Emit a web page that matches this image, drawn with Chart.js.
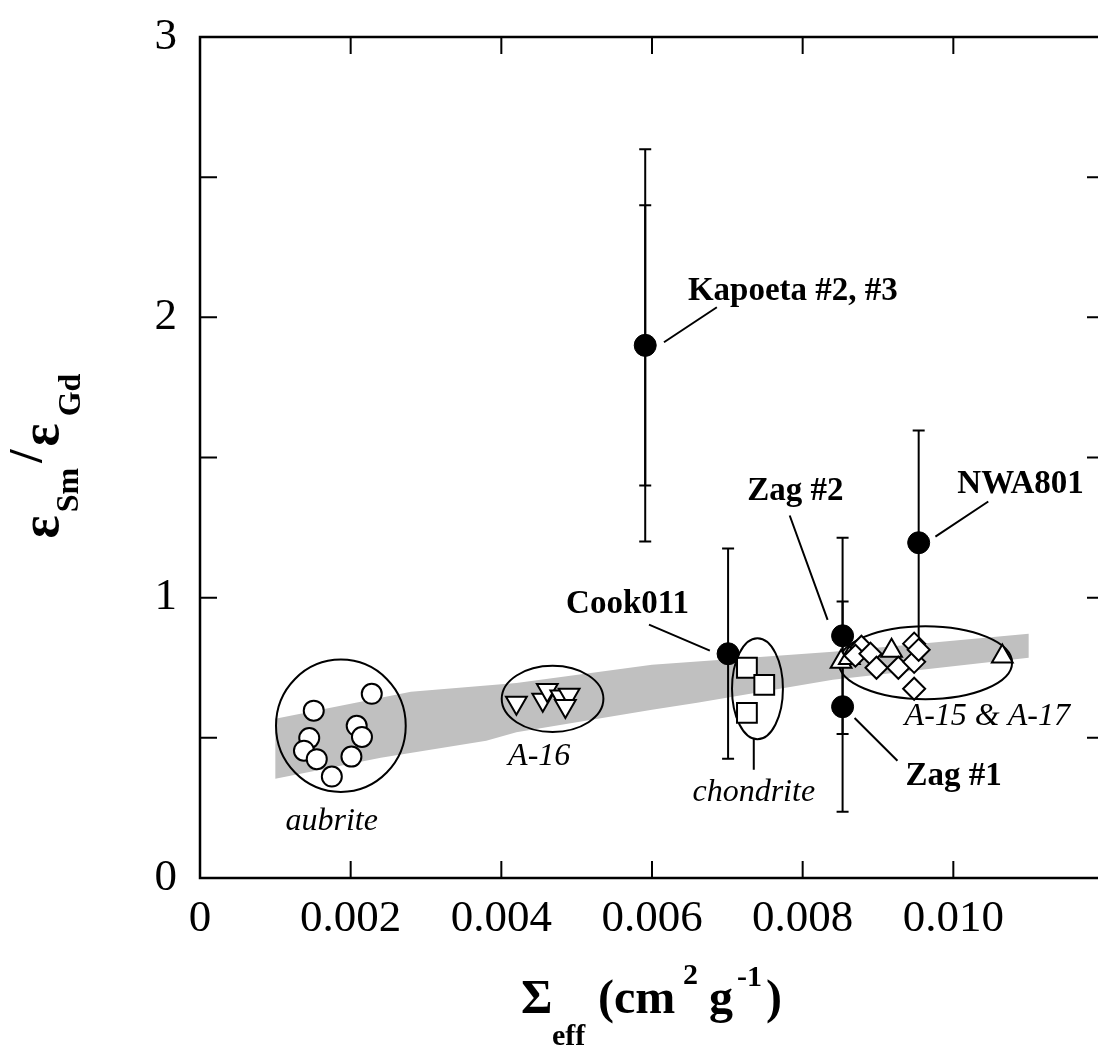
<!DOCTYPE html>
<html>
<head>
<meta charset="utf-8">
<script src="https://cdn.jsdelivr.net/npm/chart.js@4.4.1/dist/chart.umd.min.js"></script>
<style>
  html, body { margin: 0; padding: 0; background: #fff; overflow: hidden; }
  #wrap { width: 1120px; height: 1048px; }
</style>
</head>
<body>
<div id="wrap"><canvas id="chart" width="1120" height="1048"></canvas></div>
<script>
// --- data ---
// measured samples (filled circles)
const sampleNames = ['Kapoeta #2, #3', 'Cook011', 'Zag #2', 'Zag #1', 'NWA801'];
const sampleX = [0.00591, 0.00701, 0.00853, 0.00853, 0.00954];
const sampleY = [1.90, 0.80, 0.864, 0.611, 1.196];
const sampleErr = [0.50, 0.375, 0.35, 0.375, 0.40];
const sampleErrOuter = [0.70, 0, 0, 0, 0];

// aubrite (open circles)
const aubriteX = [0.00228, 0.00151, 0.00208, 0.00215, 0.00145, 0.00138, 0.00155, 0.00201, 0.00175];
const aubriteY = [0.657, 0.597, 0.543, 0.503, 0.499, 0.454, 0.424, 0.433, 0.362];

// A-16 (down triangles)
const a16X = [0.00420, 0.00455, 0.00461, 0.00479, 0.00490, 0.00485];
const a16Y = [0.625, 0.636, 0.671, 0.647, 0.654, 0.614];

// chondrite (squares)
const chondriteX = [0.00726, 0.00749, 0.00726];
const chondriteY = [0.750, 0.689, 0.589];

// A-15 & A-17 (up triangles and diamonds)
const a15TriX = [0.00851, 0.00862, 0.00918, 0.01065];
const a15TriY = [0.771, 0.785, 0.811, 0.790];
const a15DiaX = [0.00948, 0.00878, 0.00870, 0.00890, 0.00898, 0.00927, 0.00948, 0.00954, 0.00948];
const a15DiaY = [0.836, 0.825, 0.793, 0.800, 0.750, 0.750, 0.771, 0.814, 0.675];

// grey model band
const bandUpperX = [0.001, 0.0028, 0.0042, 0.006, 0.0084, 0.011];
const bandUpperY = [0.568, 0.664, 0.696, 0.761, 0.807, 0.871];
const bandLowerX = [0.001, 0.0024, 0.0038, 0.0042, 0.006, 0.0066, 0.0084, 0.011];
const bandLowerY = [0.354, 0.429, 0.490, 0.520, 0.600, 0.625, 0.707, 0.786];

// group outlines (centre and half-axes in data units)
const groupCx = [0.00187, 0.00468, 0.00740, 0.00963];
const groupCy = [0.543, 0.639, 0.675, 0.768];
const groupRx = [0.000861, 0.000675, 0.000338, 0.00115];
const groupRy = [0.236, 0.118, 0.180, 0.130];

// text annotations
const groupNames = ['aubrite', 'A-16', 'chondrite', 'A-15 & A-17'];
const groupLabelX = [0.001748, 0.004503, 0.007351, 0.01045];
const groupLabelY = [0.200, 0.432, 0.304, 0.575];
const sampleLabelX = [0.006477, 0.00649, 0.008543, 0.009364, 0.010053];
const sampleLabelY = [2.093, 0.975, 1.379, 0.361, 1.404];
const sampleLabelAlign = ['left', 'right', 'right', 'left', 'left'];
const leaderLines = [
  [0.006159, 1.911, 0.006861, 2.036],
  [0.006768, 0.811, 0.00596, 0.904],
  [0.008331, 0.921, 0.007828, 1.293],
  [0.008689, 0.571, 0.009258, 0.418],
  [0.009762, 1.218, 0.010464, 1.343],
  [0.007351, 0.496, 0.007351, 0.386]
];

const xTicks = [0, 0.002, 0.004, 0.006, 0.008, 0.010, 0.012];
const yTicks = [0, 1, 2, 3];

const SERIF = "'Liberation Serif', 'Times New Roman', serif";

function pts(xs, ys) { return xs.map((x, i) => ({ x: x, y: ys[i] })); }

const bandPoly = pts(bandUpperX, bandUpperY)
  .concat(pts(bandLowerX, bandLowerY).reverse());
bandPoly.push({ x: bandUpperX[0], y: bandUpperY[0] });

// ellipses + error bars, drawn right after the band
const underlayPlugin = {
  id: 'underlay',
  afterDatasetDraw(chart, args) {
    if (args.index !== 6) return;
    const ctx = chart.ctx;
    const xs = chart.scales.x, ys = chart.scales.y;
    ctx.save();
    ctx.strokeStyle = '#000';
    ctx.lineWidth = 2;
    groupCx.forEach((cx, i) => {
      const px = xs.getPixelForValue(cx), py = ys.getPixelForValue(groupCy[i]);
      const rx = xs.getPixelForValue(cx + groupRx[i]) - px;
      const ry = py - ys.getPixelForValue(groupCy[i] + groupRy[i]);
      ctx.beginPath();
      ctx.ellipse(px, py, rx, ry, 0, 0, Math.PI * 2);
      ctx.stroke();
    });
    sampleX.forEach((x, i) => {
      const px = xs.getPixelForValue(x);
      [sampleErr[i], sampleErrOuter[i]].forEach(e => {
        if (!e) return;
        const top = ys.getPixelForValue(sampleY[i] + e);
        const bot = ys.getPixelForValue(sampleY[i] - e);
        ctx.beginPath();
        ctx.moveTo(px, top); ctx.lineTo(px, bot);
        ctx.moveTo(px - 6, top); ctx.lineTo(px + 6, top);
        ctx.moveTo(px - 6, bot); ctx.lineTo(px + 6, bot);
        ctx.stroke();
      });
    });
    ctx.restore();
  }
};

// frame, inward ticks, annotations and axis titles
const overlayPlugin = {
  id: 'overlay',
  afterDraw(chart) {
    const ctx = chart.ctx;
    const a = chart.chartArea;
    const xs = chart.scales.x, ys = chart.scales.y;
    ctx.save();
    ctx.strokeStyle = '#000';
    ctx.lineWidth = 2.5;
    ctx.strokeRect(a.left, a.top, a.right - a.left, a.bottom - a.top);

    ctx.lineWidth = 2;
    const tl = 17;
    ctx.beginPath();
    xs.ticks.forEach(t => {
      const p = xs.getPixelForValue(t.value);
      ctx.moveTo(p, a.bottom); ctx.lineTo(p, a.bottom - tl);
      ctx.moveTo(p, a.top); ctx.lineTo(p, a.top + tl);
    });
    ys.ticks.forEach(t => {
      const p = ys.getPixelForValue(t.value);
      ctx.moveTo(a.left, p); ctx.lineTo(a.left + tl, p);
      ctx.moveTo(a.right, p); ctx.lineTo(a.right - tl, p);
    });
    ctx.stroke();

    // leader lines
    ctx.beginPath();
    leaderLines.forEach(l => {
      ctx.moveTo(xs.getPixelForValue(l[0]), ys.getPixelForValue(l[1]));
      ctx.lineTo(xs.getPixelForValue(l[2]), ys.getPixelForValue(l[3]));
    });
    ctx.stroke();

    ctx.fillStyle = '#000';
    ctx.textBaseline = 'middle';
    ctx.font = 'bold 33px ' + SERIF;
    sampleNames.forEach((n, i) => {
      ctx.textAlign = sampleLabelAlign[i];
      ctx.fillText(n, xs.getPixelForValue(sampleLabelX[i]), ys.getPixelForValue(sampleLabelY[i]));
    });
    ctx.font = 'italic 32px ' + SERIF;
    ctx.textAlign = 'center';
    groupNames.forEach((n, i) => {
      ctx.fillText(n, xs.getPixelForValue(groupLabelX[i]), ys.getPixelForValue(groupLabelY[i]));
    });

    // x title: Σeff (cm2 g-1)
    ctx.textBaseline = 'alphabetic';
    ctx.textAlign = 'left';
    ctx.font = 'bold 48px ' + SERIF;
    ctx.fillText('\u03A3', 521, 1013);
    ctx.fillText('(cm', 598, 1013);
    ctx.fillText('g', 709, 1013);
    ctx.fillText(')', 766, 1013);
    ctx.font = 'bold 30px ' + SERIF;
    ctx.fillText('eff', 552, 1045);
    ctx.fillText('2', 683, 984);
    ctx.fillText('-1', 737, 986);

    // y title: εSm /εGd (rotated)
    const rot = (txt, font, cx, cy) => {
      ctx.save();
      ctx.translate(cx, cy);
      ctx.rotate(-Math.PI / 2);
      ctx.font = font;
      ctx.textAlign = 'center';
      ctx.textBaseline = 'middle';
      ctx.fillText(txt, 0, 0);
      ctx.restore();
    };
    rot('\u03B5', 'bold 54px ' + SERIF, 44, 527);
    rot('Sm', 'bold 32px ' + SERIF, 70, 490);
    rot('/', 'bold 48px ' + SERIF, 30, 456);
    rot('\u03B5', 'bold 54px ' + SERIF, 44, 435);
    rot('Gd', 'bold 32px ' + SERIF, 72, 395);
    ctx.restore();
  }
};

new Chart(document.getElementById('chart'), {
  type: 'scatter',
  data: {
    datasets: [
      { label: 'samples', data: pts(sampleX, sampleY), order: 0,
        pointStyle: 'circle', pointRadius: 11, backgroundColor: '#000', borderColor: '#000', borderWidth: 1 },
      { label: 'aubrite', data: pts(aubriteX, aubriteY), order: 1,
        pointStyle: 'circle', pointRadius: 10, backgroundColor: '#fff', borderColor: '#000', borderWidth: 2 },
      { label: 'A-16', data: pts(a16X, a16Y), order: 2,
        pointStyle: 'triangle', rotation: 180, pointRadius: 12, backgroundColor: '#fff', borderColor: '#000', borderWidth: 2 },
      { label: 'chondrite', data: pts(chondriteX, chondriteY), order: 3,
        pointStyle: 'rect', pointRadius: 14, backgroundColor: '#fff', borderColor: '#000', borderWidth: 2 },
      { label: 'A-15 tri', data: pts(a15TriX, a15TriY), order: 5,
        pointStyle: 'triangle', pointRadius: 12, backgroundColor: '#fff', borderColor: '#000', borderWidth: 2 },
      { label: 'A-15 dia', data: pts(a15DiaX, a15DiaY), order: 4,
        pointStyle: 'rectRot', pointRadius: 11, backgroundColor: '#fff', borderColor: '#000', borderWidth: 2 },
      { label: 'band', data: bandPoly, order: 10, showLine: true, fill: 'shape',
        pointRadius: 0, borderWidth: 0, borderColor: 'rgba(0,0,0,0)', backgroundColor: '#c0c0c0', tension: 0 }
    ]
  },
  options: {
    responsive: false,
    devicePixelRatio: 1,
    animation: false,
    events: [],
    layout: { padding: { top: 37, right: 14, left: 0, bottom: 0 } },
    plugins: { legend: { display: false }, tooltip: { enabled: false } },
    scales: {
      x: {
        type: 'linear', min: 0, max: 0.012,
        afterBuildTicks: s => { s.ticks = xTicks.map(v => ({ value: v })); },
        afterFit: s => { s.height = 170; s.paddingLeft = 0; s.paddingRight = 0; },
        grid: { display: false, drawTicks: false },
        border: { display: false },
        ticks: {
          autoSkip: false, maxRotation: 0, padding: 14, color: '#000',
          font: { family: SERIF, size: 45 },
          callback: v => (v === 0 ? '0' : (Math.abs(v - 0.012) < 1e-9 ? '' : v.toFixed(3)))
        }
      },
      y: {
        type: 'linear', min: 0, max: 3,
        ticks: {
          stepSize: 0.5, padding: 23, color: '#000',
          font: { family: SERIF, size: 45 },
          callback: v => (yTicks.includes(v) ? String(v) : '')
        },
        afterFit: s => { s.width = 200; s.paddingTop = 0; s.paddingBottom = 0; },
        grid: { display: false, drawTicks: false },
        border: { display: false }
      }
    }
  },
  plugins: [underlayPlugin, overlayPlugin]
});
</script>
</body>
</html>
